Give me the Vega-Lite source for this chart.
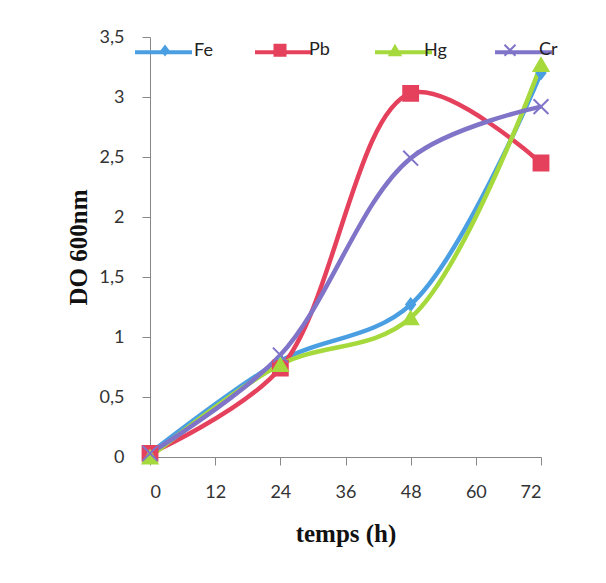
{
  "$schema": "https://vega.github.io/schema/vega-lite/v6.json",
  "width": 391,
  "height": 420,
  "autosize": "none",
  "padding": {"left": 150, "top": 37, "right": 65, "bottom": 126},
  "background": "white",
  "config": {"view": {"stroke": null}, "font": "Lato"},
  "data": {"values": [
    {"t": 0, "s": "Fe", "v": 0.03}, {"t": 24, "s": "Fe", "v": 0.8}, {"t": 48, "s": "Fe", "v": 1.27}, {"t": 72, "s": "Fe", "v": 3.2},
    {"t": 0, "s": "Pb", "v": 0.03}, {"t": 24, "s": "Pb", "v": 0.74}, {"t": 48, "s": "Pb", "v": 3.03}, {"t": 72, "s": "Pb", "v": 2.45},
    {"t": 0, "s": "Hg", "v": 0.0}, {"t": 24, "s": "Hg", "v": 0.77}, {"t": 48, "s": "Hg", "v": 1.16}, {"t": 72, "s": "Hg", "v": 3.27},
    {"t": 0, "s": "Cr", "v": 0.03}, {"t": 24, "s": "Cr", "v": 0.85}, {"t": 48, "s": "Cr", "v": 2.49}, {"t": 72, "s": "Cr", "v": 2.92}
  ]},
  "encoding": {
    "x": {"field": "t", "type": "quantitative",
      "scale": {"domain": [0, 72], "nice": false},
      "axis": {"values": [0, 12, 24, 36, 48, 60, 72], "title": "temps (h)", "grid": false,
        "domainColor": "#888", "tickColor": "#888", "tickSize": 8, "labelPadding": 18,
        "labelFont": "Lato", "labelFontSize": 18, "labelColor": "#333",
        "titleFont": "Liberation Serif", "titleFontSize": 25, "titleFontWeight": "bold", "titleColor": "#111", "titlePadding": 20}},
    "y": {"field": "v", "type": "quantitative",
      "scale": {"domain": [0, 3.5], "nice": false},
      "axis": {"values": [0, 0.5, 1, 1.5, 2, 2.5, 3, 3.5], "title": "DO 600nm", "grid": false,
        "labelExpr": "replace(toString(datum.value), '.', ',')",
        "domainColor": "#888", "tickColor": "#888", "tickSize": 8, "labelPadding": 18,
        "labelFont": "Lato", "labelFontSize": 18, "labelColor": "#333",
        "titleFont": "Liberation Serif", "titleFontSize": 25, "titleFontWeight": "bold", "titleColor": "#111", "titlePadding": 8}}
  },
  "layer": [
    {
      "mark": {"type": "line", "interpolate": "catmull-rom", "strokeWidth": 4.5},
      "encoding": {
        "stroke": {"field": "s", "type": "nominal",
          "scale": {"domain": ["Fe", "Pb", "Hg", "Cr"], "range": ["#4a9fe2", "#e5405c", "#a5d93c", "#7f74c8"]},
          "legend": {"title": null, "orient": "none", "legendX": -17, "legendY": -15.5, "direction": "horizontal",
            "symbolType": "stroke", "symbolSize": 3249, "symbolStrokeWidth": 4, "labelOffset": 0, "columnPadding": 47,
            "gridAlign": "all", "padding": 0, "labelExpr": "''",
            "labelFont": "Lato", "labelFontSize": 18, "labelColor": "#222"}
        }
      }
    },
    {
      "mark": {"type": "point", "filled": true, "size": 220, "strokeWidth": 2, "opacity": 1},
      "encoding": {
        "color": {"field": "s", "type": "nominal",
          "scale": {"domain": ["Fe", "Pb", "Hg", "Cr"], "range": ["#4a9fe2", "#e5405c", "#a5d93c", "#7f74c8"]},
          "legend": {"title": null, "orient": "none", "legendX": 6, "legendY": 4, "direction": "horizontal",
            "symbolSize": 121, "symbolStrokeWidth": 2, "labelOffset": 20, "columnPadding": 53,
            "gridAlign": "all", "padding": 0,
            "labelFont": "Lato", "labelFontSize": 18, "labelColor": "#222"}},
        "stroke": {"field": "s", "type": "nominal", "legend": null},
        "shape": {"field": "s", "type": "nominal",
          "scale": {"domain": ["Fe", "Pb", "Hg", "Cr"], "range": ["M0,-0.8L0.6,0L0,0.8L-0.6,0Z", "square", "triangle-up", "M-1,-1L1,1M-1,1L1,-1"]},
          "legend": {"title": null, "orient": "none", "legendX": 6, "legendY": 4, "direction": "horizontal",
            "symbolSize": 121, "symbolStrokeWidth": 2, "labelOffset": 20, "columnPadding": 53,
            "gridAlign": "all", "padding": 0,
            "labelFont": "Lato", "labelFontSize": 18, "labelColor": "#222",
            "encode": {"symbols": {"update": {
              "stroke": {"signal": "datum.value === 'Fe' ? '#4a9fe2' : datum.value === 'Pb' ? '#e5405c' : datum.value === 'Hg' ? '#a5d93c' : '#7f74c8'"},
              "strokeWidth": {"value": 2},
              "opacity": {"value": 1}
            }}}}}
      }
    }
  ],
  "resolve": {"legend": {"stroke": "independent", "shape": "independent", "color": "independent"}}
}
